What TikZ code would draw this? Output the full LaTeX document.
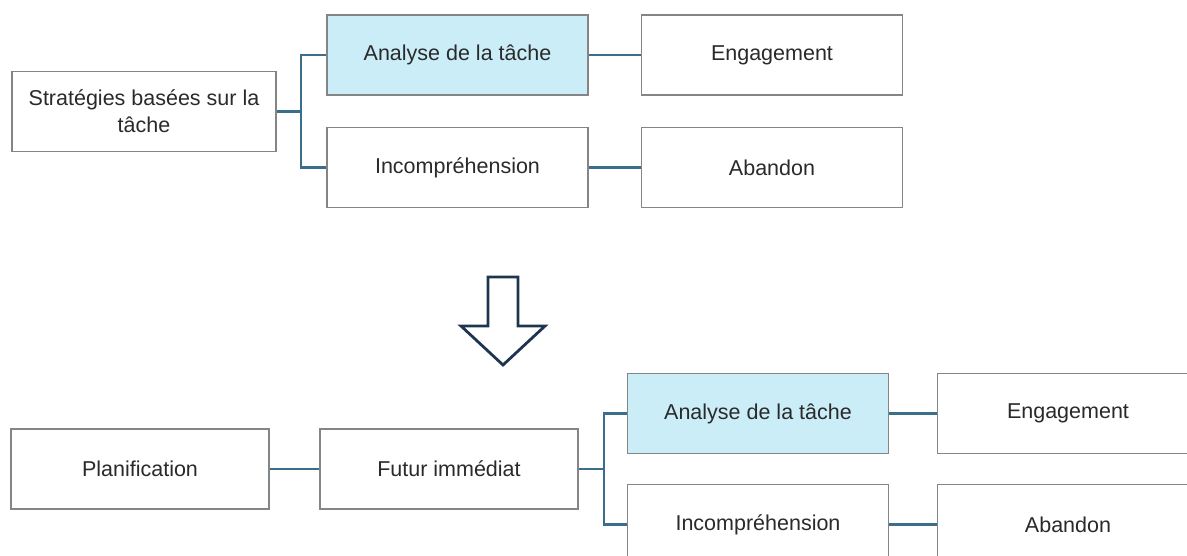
\documentclass[tikz,border=0pt]{standalone}
\usepackage{fontspec}
\setmainfont{Liberation Sans}
\begin{document}
\begin{tikzpicture}[x=1pt,y=-1pt,
  box/.style={draw=boxgray,line width=1.5pt,fill=white,minimum width=#1,minimum height=80pt,
    inner sep=0pt,font=\fontsize{21.5}{27}\selectfont,text=textgray,align=center},
  box/.default=261pt,
  hl/.style={fill=hlblue},
  link/.style={draw=linkblue,line width=2.2pt},
  ]
\definecolor{boxgray}{HTML}{858585}
\definecolor{textgray}{HTML}{2A2A2A}
\definecolor{hlblue}{HTML}{CBEDF8}
\definecolor{linkblue}{HTML}{3A6F8C}
\definecolor{navy}{HTML}{1E3550}
\useasboundingbox (0,0) rectangle (1187,556);
\clip (0,0) rectangle (1187,556);

% upper tree
\node[box=264pt] (s) at (144,111.5) {Stratégies basées sur la\\tâche};
\node[box,hl] (a1) at (457.5,55) {Analyse de la tâche};
\node[box] (i1) at (457.5,167.5) {Incompréhension};
\node[box] (e1) at (772,55) {Engagement};
\node[box] (b1) at (772,167.5) {Abandon};
\coordinate (j1) at (301,111.5);
\draw[link] (s.east) -- (j1);
\draw[link] (a1.west) -| (j1) |- (i1.west);
\draw[link] (a1.east) -- (e1.west);
\draw[link] (i1.east) -- (b1.west);

% hollow down arrow
\draw[navy,line width=2.8pt,line join=miter]
  (488,277) -- (518,277) -- (518,326) -- (545,326) -- (503,365)
  -- (461,326) -- (488,326) -- cycle;

% lower tree
\node[box=258pt] (p) at (140,469) {Planification};
\node[box=258pt] (f) at (449,469) {Futur immédiat};
\node[box,hl] (a2) at (758,413.5) {Analyse de la tâche};
\node[box] (i2) at (758,524.5) {Incompréhension};
\node[box] (e2) at (1068,413.5) {Engagement};
\node[box] (b2) at (1068,524.5) {Abandon};
\coordinate (j2) at (604,469);
\draw[link] (p.east) -- (f.west);
\draw[link] (f.east) -- (j2);
\draw[link] (a2.west) -| (j2) |- (i2.west);
\draw[link] (a2.east) -- (e2.west);
\draw[link] (i2.east) -- (b2.west);
\end{tikzpicture}
\end{document}
